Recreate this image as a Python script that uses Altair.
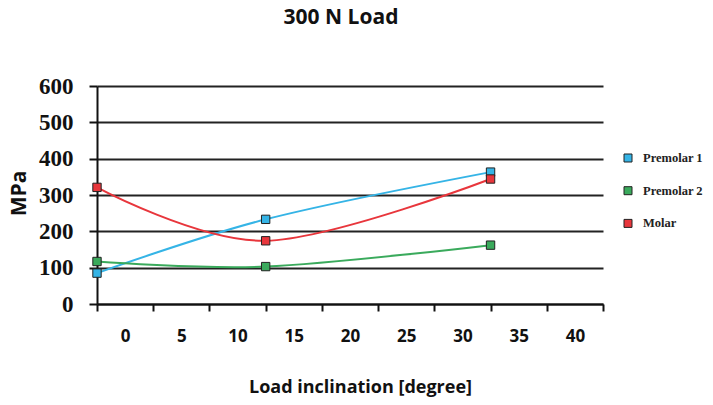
import altair as alt
import pandas as pd

series = ["Premolar 1", "Premolar 2", "Molar"]
inclination = [0, 15, 35]
premolar1 = [85, 233, 363]
premolar2 = [117, 103, 162]
molar = [321, 174, 344]
colors = ["#35b4e6", "#3aaa5c", "#e8363c"]
x_ticks = [0, 5, 10, 15, 20, 25, 30, 35, 40, 45]
y_ticks = [0, 100, 200, 300, 400, 500, 600]

rows = []
for name, vals in zip(series, [premolar1, premolar2, molar]):
    for x, v in zip(inclination, vals):
        rows.append({"series": name, "x": x, "mpa": v})
df = pd.DataFrame(rows)

W, H = 506, 218

# legend rows (pixel layout inside the plot group)
LEG_TOP, LEG_STEP = 72, 32.7
legend_df = pd.DataFrame(
    {"series": series, "ly": [LEG_TOP + i * LEG_STEP for i in range(len(series))]}
)

x_enc = alt.X(
    "x:Q",
    scale=alt.Scale(domain=[0, 45], nice=False, zero=False),
    axis=alt.Axis(
        values=x_ticks,
        format="d",
        labelExpr="datum.value >= 45 ? '' : datum.label",
        labelOffset=W / 18,
        labelFont="Open Sans",
        labelFontWeight="bold",
        labelFontSize=17,
        labelColor="#111",
        labelPadding=17,
        labelFlush=False,
        labelOverlap=False,
        tickSize=7,
        tickColor="#111",
        tickWidth=2,
        domainColor="#111",
        domainWidth=2,
        grid=False,
        title="Load inclination [degree]",
        titleFont="Open Sans",
        titleFontWeight="bold",
        titleFontSize=18,
        titleColor="#111",
        titleX=263,
        titleY=88,
        titleAlign="center",
        titleBaseline="alphabetic",
    ),
)
y_enc = alt.Y(
    "mpa:Q",
    scale=alt.Scale(domain=[0, 600], nice=False),
    axis=alt.Axis(
        values=y_ticks,
        labelFont="Liberation Serif",
        labelFontWeight="bold",
        labelFontSize=23,
        labelColor="#111",
        labelPadding=16,
        tickSize=8,
        tickColor="#111",
        tickWidth=2,
        domainColor="#111",
        domainWidth=2,
        grid=True,
        gridColor="#222",
        gridWidth=2,
        title="MPa",
        titleFont="Open Sans",
        titleFontWeight="bold",
        titleFontSize=21,
        titleColor="#111",
        titleX=-72,
        titleY=107,
        titleAlign="center",
        titleBaseline="alphabetic",
        titleAngle=270,
    ),
)

color_scale = alt.Scale(domain=series, range=colors)

lines = alt.Chart(df).mark_line(interpolate="cardinal", strokeWidth=2).encode(
    x=x_enc,
    y=y_enc,
    color=alt.Color("series:N", scale=color_scale, legend=None),
)

points = alt.Chart(df).mark_point(
    shape="square", filled=True, size=70, stroke="#222", strokeWidth=1, opacity=1
).encode(
    x=x_enc,
    y=y_enc,
    color=alt.Color("series:N", scale=color_scale, legend=None),
)

legend_symbols = alt.Chart(legend_df).mark_point(
    shape="square", filled=True, size=64, stroke="#222", strokeWidth=1, opacity=1
).encode(
    x=alt.value(531),
    y=alt.Y("ly:Q", scale=None),
    color=alt.Color("series:N", scale=color_scale, legend=None),
)

legend_labels = alt.Chart(legend_df).mark_text(
    align="left",
    baseline="middle",
    font="Liberation Serif",
    fontWeight="bold",
    fontSize=12.5,
    color="#222",
).encode(
    x=alt.value(546),
    y=alt.Y("ly:Q", scale=None),
    text="series:N",
)

chart = (
    alt.layer(lines, points, legend_symbols, legend_labels)
    .properties(
        width=W,
        height=H,
        title=alt.TitleParams(
            "300 N Load",
            font="Open Sans",
            fontWeight="bold",
            fontSize=21,
            color="#111",
            anchor="middle",
            frame="group",
            offset=47,
            dx=-9,
        ),
        autosize=alt.AutoSizeParams(type="none"),
        padding={"left": 89, "top": 78, "right": 101, "bottom": 93},
    )
    .configure_view(stroke=None)
)

chart.save("out.html", embed_options={"renderer": "svg", "actions": False})
